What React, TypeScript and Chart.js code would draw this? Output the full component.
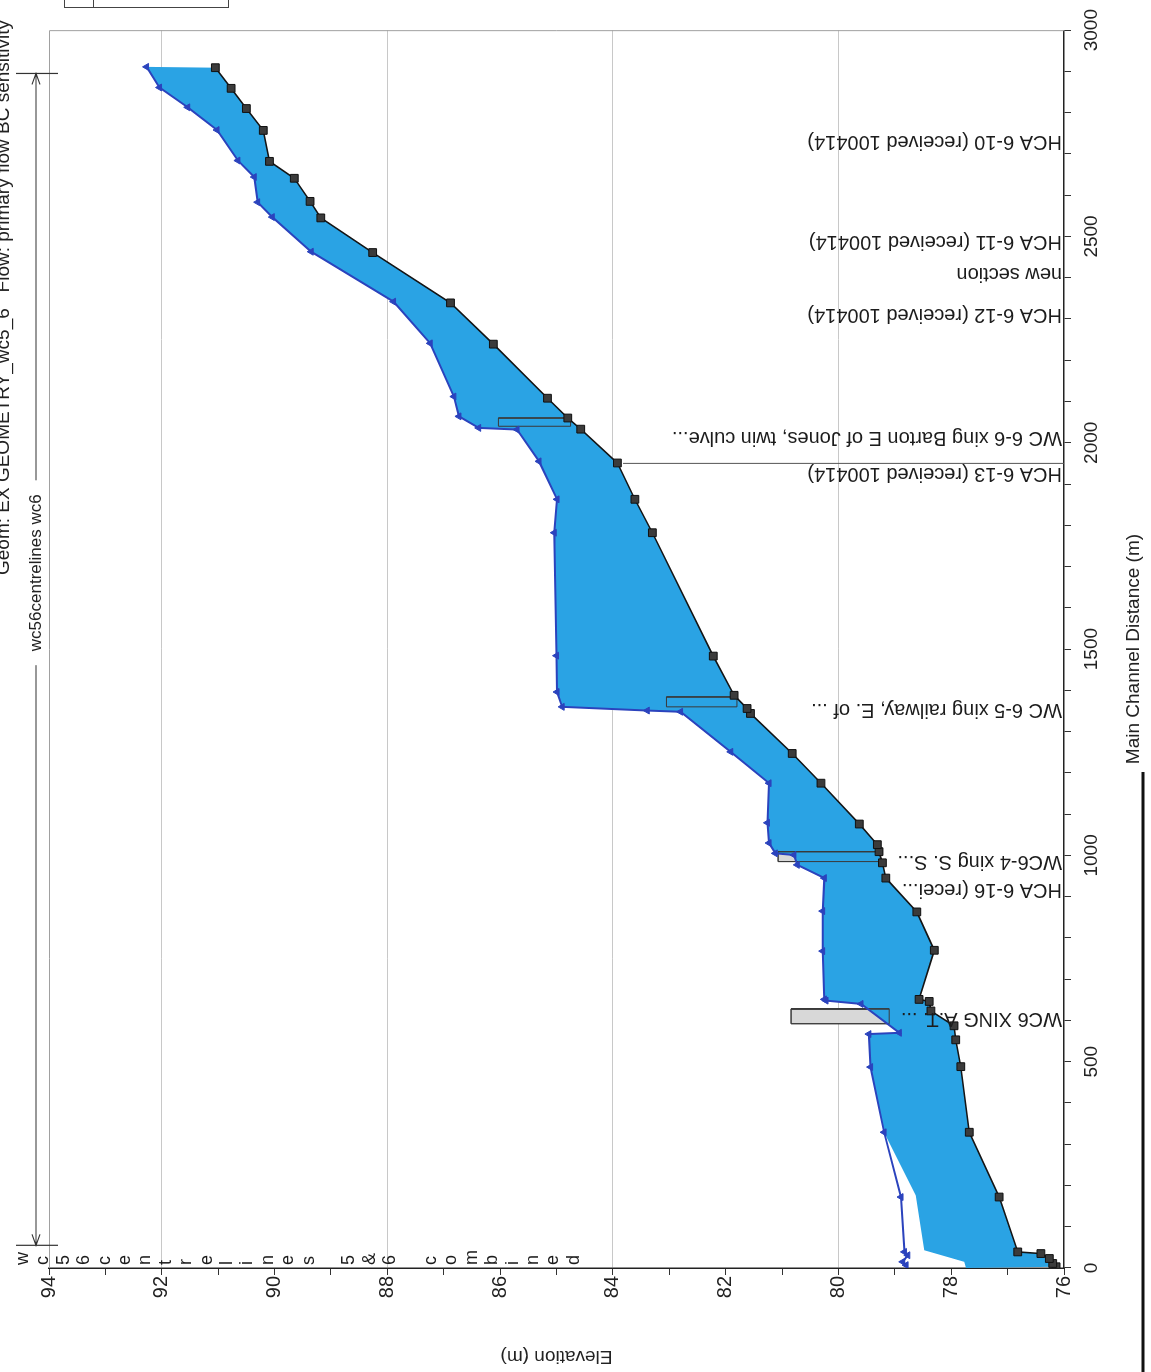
import React, { useEffect, useRef } from 'react';
import { Chart, registerables } from 'chart.js';

Chart.register(...registerables);

// ---------- data (distance along main channel in m, elevation in m) ----------
const bedDistance = [3, 11, 23, 35, 39, 172, 329, 488, 553, 587, 623, 646, 651, 770, 863, 945, 982, 1009, 1026, 1076, 1175, 1247, 1344, 1356, 1388, 1483, 1782, 1863, 1951, 2033, 2060, 2108, 2239, 2339, 2461, 2545, 2585, 2641, 2682, 2757, 2810, 2859, 2909];
const bedElevation = [76.14, 76.2, 76.26, 76.41, 76.82, 77.15, 77.68, 77.83, 77.92, 77.95, 78.36, 78.39, 78.57, 78.3, 78.61, 79.16, 79.22, 79.28, 79.31, 79.63, 80.31, 80.82, 81.56, 81.62, 81.85, 82.22, 83.3, 83.61, 83.92, 84.57, 84.8, 85.16, 86.12, 86.88, 88.26, 89.18, 89.37, 89.65, 90.09, 90.2, 90.5, 90.77, 91.05];

const waterDistance = [7, 15, 31, 39, 172, 329, 487, 567, 570, 640, 648, 651, 768, 865, 945, 977, 1001, 1005, 1030, 1079, 1175, 1251, 1348, 1351, 1360, 1396, 1484, 1782, 1863, 1955, 2032, 2036, 2064, 2112, 2241, 2342, 2463, 2547, 2583, 2644, 2684, 2758, 2813, 2861, 2911];
const waterElevation = [78.8, 78.86, 78.77, 78.83, 78.89, 79.19, 79.43, 79.46, 78.92, 79.6, 80.22, 80.25, 80.28, 80.28, 80.25, 80.73, 80.79, 81.12, 81.23, 81.26, 81.23, 81.91, 82.8, 83.39, 84.9, 84.99, 85.0, 85.04, 84.99, 85.31, 85.7, 86.38, 86.73, 86.82, 87.24, 87.89, 89.35, 90.04, 90.3, 90.36, 90.65, 91.02, 91.54, 92.04, 92.27];

// filled water surface in the lowest reach (below ~330 m it departs from the line)
const fillLowerDistance = [0, 15, 43, 176];
const fillLowerElevation = [77.74, 77.77, 78.48, 78.63];
const fillJoinDistance = 329;

// structures (culverts / crossings)
const structStart = [592, 985, 1360, 2040];
const structEnd = [628, 1009, 1384, 2060];
const structLow = [79.1, 79.26, 81.8, 84.75];
const structHigh = [80.84, 81.07, 83.05, 86.03];

// section labels
const sectionNames = [
  'HCA 6-10 (received 100414)',
  'HCA 6-11 (received 100414)',
  'new section',
  'HCA 6-12 (received 100414)',
  'WC 6-6 xing Barton E of Jones, twin culve...',
  'HCA 6-13 (received 100414)',
  'WC 6-5 xing railway, E. of ...',
  'WC6-4 xing S. S...',
  'HCA 6-16 (recei...',
  'WC6 XING A.T. ...',
];
const sectionDistances = [2754, 2513, 2435, 2334, 2037, 1950, 1378, 1009, 941, 630];
const markerLineDistance = 1950;
const markerLineTop = 83.82;

// reach arrow
const reachStart = 55;
const reachEnd = 2895;
const reachLabelAt = 1685;
const reachLabel = 'wc56centrelines wc6';
const stackedLabel = 'wc56centrelines 5&6 combined';
const titleText = 'Geom: EX GEOMETRY_wc5_6   Flow: primary flow BC sensitivity';

// axes
const distMin = 0, distMax = 3000, distStep = 100, distLabelEvery = 500;
const elevMin = 76, elevMax = 94, elevStep = 1, elevLabelEvery = 2;
const elevGridValues = [80, 84, 88, 92];

// ---------- layout (unrotated drawing, then rotated -90deg on the page) ----------
const W = 1372;
const H = 1151;
const FONT = '"Liberation Sans", Arial, Helvetica, sans-serif';
const FILL_BLUE = '#2aa3e4';
const LINE_BLUE = '#2b43bd';

const pts = (xs: number[], ys: number[]) => xs.map((x, i) => ({ x, y: ys[i] }));

function buildDatasets() {
  const bed = pts(bedDistance, bedElevation);
  const water = pts(waterDistance, waterElevation);
  const fillTop = [
    ...pts(fillLowerDistance, fillLowerElevation),
    ...water.filter((p) => p.x >= fillJoinDistance),
  ];
  const polygon = [...fillTop, ...bed.slice().reverse()];

  const rects = structStart.map((s, i) => [
    { x: s, y: structLow[i] },
    { x: s, y: structHigh[i] },
    { x: structEnd[i], y: structHigh[i] },
    { x: structEnd[i], y: structLow[i] },
    { x: s, y: structLow[i] },
  ]);

  const datasets: any[] = [];
  datasets.push({
    label: 'Bed',
    data: bed,
    showLine: true,
    borderColor: '#151515',
    borderWidth: 1.6,
    pointStyle: 'rect',
    pointRadius: 5.5,
    pointBackgroundColor: '#3b3b3b',
    pointBorderColor: '#111',
    pointBorderWidth: 1,
    fill: false,
  });
  datasets.push({
    label: 'Water level',
    data: water,
    showLine: true,
    borderColor: LINE_BLUE,
    borderWidth: 2,
    pointStyle: 'triangle',
    pointRadius: 4,
    pointBackgroundColor: LINE_BLUE,
    pointBorderColor: LINE_BLUE,
    pointBorderWidth: 1,
    fill: false,
  });
  rects.forEach((r) =>
    datasets.push({
      label: 'structure outline',
      data: r,
      showLine: true,
      borderColor: '#3a3a3a',
      borderWidth: 1,
      pointRadius: 0,
      fill: false,
    })
  );
  datasets.push({
    label: 'water area',
    data: polygon,
    showLine: true,
    borderColor: 'rgba(0,0,0,0)',
    borderWidth: 0,
    pointRadius: 0,
    backgroundColor: FILL_BLUE,
    fill: 'shape',
  });
  rects.forEach((r) =>
    datasets.push({
      label: 'structure',
      data: r,
      showLine: true,
      borderColor: '#3a3a3a',
      borderWidth: 1,
      pointRadius: 0,
      backgroundColor: '#d8d8d8',
      fill: 'shape',
    })
  );
  return datasets;
}

const overlayPlugin = {
  id: 'overlay',
  afterDraw(chart: any) {
    const { ctx, chartArea: a, scales } = chart;
    const xs = scales.x;
    const ys = scales.y;
    ctx.save();

    // frame (top and right of the plot)
    ctx.strokeStyle = '#a0a0a0';
    ctx.lineWidth = 1;
    ctx.beginPath();
    ctx.moveTo(a.left, a.top + 0.5);
    ctx.lineTo(a.right - 0.5, a.top + 0.5);
    ctx.lineTo(a.right - 0.5, a.bottom);
    ctx.stroke();

    // marker line for HCA 6-13
    const mx = xs.getPixelForValue(markerLineDistance);
    ctx.strokeStyle = '#555';
    ctx.beginPath();
    ctx.moveTo(mx, a.bottom);
    ctx.lineTo(mx, ys.getPixelForValue(markerLineTop));
    ctx.stroke();

    // section labels (vertical, reading upward from the bottom)
    ctx.font = `20px ${FONT}`;
    ctx.fillStyle = '#1c1c1c';
    ctx.textAlign = 'left';
    ctx.textBaseline = 'bottom';
    sectionNames.forEach((name, i) => {
      const px = xs.getPixelForValue(sectionDistances[i]);
      ctx.save();
      ctx.translate(px, a.bottom - 2);
      ctx.rotate(-Math.PI / 2);
      ctx.fillText(name, 0, 0);
      ctx.restore();
    });

    // stacked letters at the upstream boundary
    ctx.font = `18px ${FONT}`;
    ctx.textBaseline = 'middle';
    ctx.textAlign = 'left';
    Array.from(stackedLabel).forEach((c, i) => {
      ctx.fillText(c, a.left + 3, 23 + i * 20.4);
    });

    // reach arrow
    const ay = 36;
    const x0 = xs.getPixelForValue(reachStart);
    const x1 = xs.getPixelForValue(reachEnd);
    const xl = xs.getPixelForValue(reachLabelAt);
    ctx.font = `17px ${FONT}`;
    const tw = ctx.measureText(reachLabel).width;
    ctx.strokeStyle = '#333';
    ctx.lineWidth = 1.2;
    ctx.beginPath();
    ctx.moveTo(x0, ay);
    ctx.lineTo(xl - tw / 2 - 14, ay);
    ctx.moveTo(xl + tw / 2 + 14, ay);
    ctx.lineTo(x1, ay);
    // heads
    ctx.moveTo(x0 + 11, ay - 4);
    ctx.lineTo(x0, ay);
    ctx.lineTo(x0 + 11, ay + 4);
    ctx.moveTo(x1 - 11, ay - 4);
    ctx.lineTo(x1, ay);
    ctx.lineTo(x1 - 11, ay + 4);
    // end bars
    ctx.moveTo(x0, 16);
    ctx.lineTo(x0, 58);
    ctx.moveTo(x1, 16);
    ctx.lineTo(x1, 58);
    ctx.stroke();
    ctx.fillStyle = '#222';
    ctx.textAlign = 'center';
    ctx.textBaseline = 'middle';
    ctx.fillText(reachLabel, xl, ay);

    // title (partly cut by the page edge)
    ctx.font = `19px ${FONT}`;
    ctx.textAlign = 'right';
    ctx.textBaseline = 'alphabetic';
    ctx.fillText(titleText, 1352, 9);

    // legend box stub at the page edge
    ctx.strokeStyle = '#444';
    ctx.lineWidth = 1;
    ctx.strokeRect(W - 7.5, 64.5, 20, 164);
    ctx.beginPath();
    ctx.moveTo(W - 7.5, 93.5);
    ctx.lineTo(W, 93.5);
    ctx.stroke();

    // page border line
    ctx.strokeStyle = '#111';
    ctx.lineWidth = 3;
    ctx.beginPath();
    ctx.moveTo(0, 1143);
    ctx.lineTo(600, 1143);
    ctx.stroke();

    ctx.restore();
  },
};

export default function App() {
  const ref = useRef<HTMLCanvasElement | null>(null);

  useEffect(() => {
    document.body.style.overflow = 'hidden';
    Chart.defaults.font.family = FONT;
    const chart = new Chart(ref.current as HTMLCanvasElement, {
      type: 'scatter',
      data: { datasets: buildDatasets() },
      options: {
        responsive: false,
        animation: false,
        devicePixelRatio: 1,
        layout: { padding: { left: 0, right: 25, top: 49, bottom: 0 } },
        plugins: {
          legend: { display: false },
          tooltip: { enabled: false },
          title: { display: false },
        },
        elements: { line: { tension: 0 } },
        scales: {
          x: {
            type: 'linear',
            min: distMin,
            max: distMax,
            afterFit: (s: any) => {
              s.height = 87;
            },
            ticks: {
              stepSize: distStep,
              maxTicksLimit: 100,
              autoSkip: false,
              maxRotation: 0,
              minRotation: 0,
              padding: 9,
              color: '#222',
              font: { size: 19 },
              callback: (v: any) => (Number(v) % distLabelEvery === 0 ? String(v) : ''),
            },
            grid: {
              color: 'rgba(0,0,0,0)',
              tickColor: '#333',
              tickLength: 7,
            },
            border: { display: true, color: '#222', width: 1.5 },
            title: {
              display: true,
              text: 'Main Channel Distance (m)',
              color: '#222',
              font: { size: 19 },
              padding: { top: 4, bottom: 6 },
            },
          },
          y: {
            type: 'linear',
            min: elevMin,
            max: elevMax,
            afterFit: (s: any) => {
              s.width = 104;
            },
            ticks: {
              stepSize: elevStep,
              maxTicksLimit: 100,
              autoSkip: false,
              padding: 1,
              color: '#222',
              font: { size: 20 },
              callback: (v: any) => (Number(v) % elevLabelEvery === 0 ? String(v) : ''),
            },
            grid: {
              color: (c: any) => (c.tick && elevGridValues.includes(c.tick.value) ? '#c8c8c8' : 'rgba(0,0,0,0)'),
              tickColor: '#333',
              tickLength: 7,
            },
            border: { display: true, color: '#222', width: 1.5 },
            title: {
              display: true,
              text: 'Elevation (m)',
              color: '#222',
              font: { size: 19 },
              padding: { top: 4, bottom: 4 },
            },
          },
        },
      } as any,
      plugins: [overlayPlugin],
    });
    return () => chart.destroy();
  }, []);

  return (
    <div
      style={{
        position: 'absolute',
        left: 0,
        top: 0,
        width: W,
        height: H,
        background: '#fff',
        transformOrigin: '0 0',
        transform: `translate(0px, ${W}px) rotate(-90deg)`,
      }}
    >
      <canvas ref={ref} width={W} height={H} style={{ display: 'block', width: W, height: H }} />
    </div>
  );
}
